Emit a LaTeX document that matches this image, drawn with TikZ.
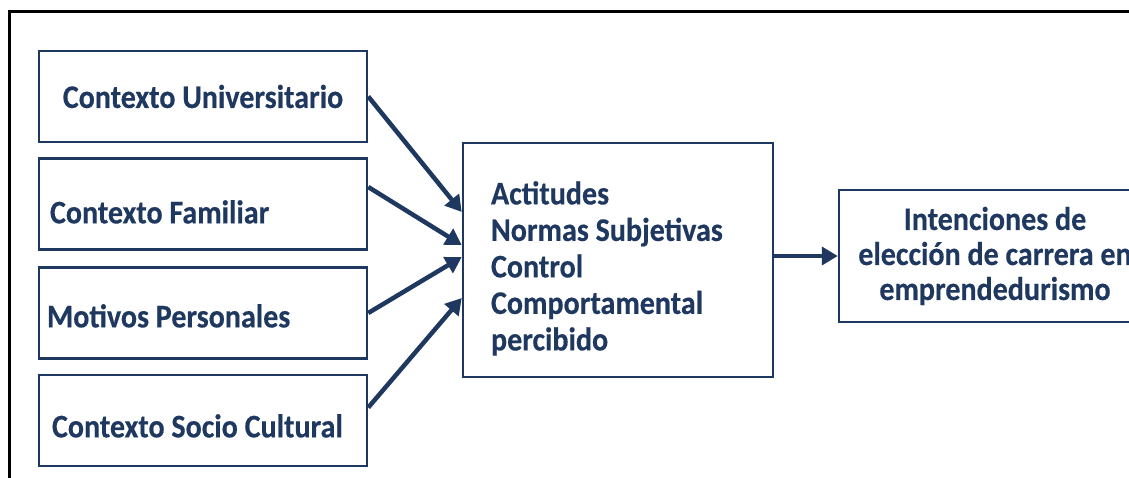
\documentclass[tikz,border=0pt]{standalone}
\usepackage{fontspec}
\setmainfont{Carlito}[FakeStretch=0.91, BoldFeatures={FakeBold=0.4}]
\usetikzlibrary{calc,arrows.meta}
\definecolor{azul}{RGB}{31,56,96}

\begin{document}
\begin{tikzpicture}[x=1pt, y=-1pt,
    caja/.style={draw=azul, line width=2.5pt, text=azul,
        font=\fontsize{33pt}{36.5pt}\selectfont\bfseries, minimum height=91pt},
    cajaizq/.style={caja, minimum width=328pt},
    flecha/.style={draw=azul, line width=4.5pt, -{Triangle[length=16pt,width=18pt]}}]
    % Khung ngoài
    \useasboundingbox (0,0) rectangle (1129,477);
    \clip (0,0) rectangle (1129,477);
    \draw[line width=3pt] (9,490) -- (9,11) -- (1140,11);
    % Các hộp bên trái
    \node[cajaizq] (ctxuni) at (203,96.5) {Contexto Universitario};
    \node[cajaizq, inner xsep=11pt, text width=306pt, align=flush left, text height=39pt] (ctxfam) at (203,204) {Contexto Familiar};
    \node[cajaizq, inner xsep=8pt, text width=312pt, align=flush left, text height=29pt] (motivos) at (203,313) {Motivos Personales};
    \node[cajaizq, inner xsep=13pt, text width=302pt, align=flush left, text height=34pt] (ctxsoc) at (203,420.5) {Contexto Socio Cultural};
    % Hộp giữa và hộp bên phải
    \node[caja, minimum height=234pt, inner xsep=28pt, text width=254pt, align=flush left] (actitud) at (618,260)
        {\rule{0pt}{40pt}Actitudes\\Normas Subjetivas\\Control\\Comportamental\\percibido};
    \node[caja, minimum width=312pt, minimum height=132pt, align=center,
        font=\fontsize{33pt}{35pt}\selectfont\bfseries] (intencion) at (995,256)
        {Intenciones de\\elección de carrera en\\emprendedurismo};
    % Mũi tên
    \draw[flecha] (ctxuni.east) -- ($(actitud.west)+(0,-48)$);
    \draw[flecha] ($(ctxfam.east)+(0,-17)$) -- ($(actitud.west)+(0,-15)$);
    \draw[flecha] (motivos.east) -- ($(actitud.west)+(0,-3)$);
    \draw[flecha] ($(ctxsoc.east)+(0,-13)$) -- ($(actitud.west)+(0,38)$);
    \draw[flecha] (actitud.east |- intencion.west) -- (intencion.west);
\end{tikzpicture}
\end{document}
